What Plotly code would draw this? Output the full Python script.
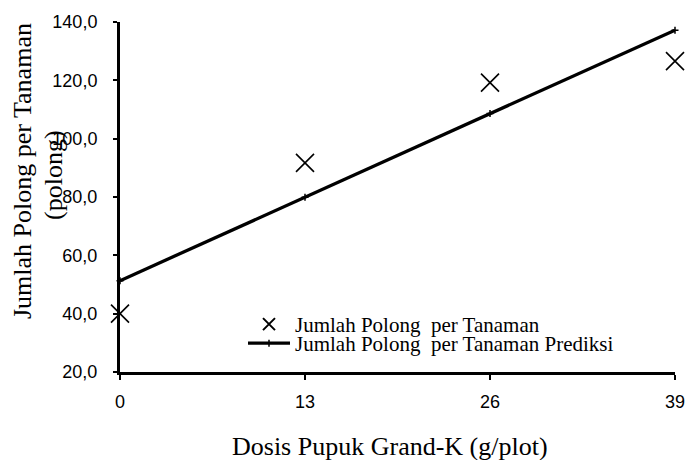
import plotly.graph_objects as go

dosis = [0, 13, 26, 39]
polong_obs = [40.0, 91.7, 119.2, 126.6]
polong_pred = [51.3, 79.9, 108.6, 137.2]
y_ticks = [20, 40, 60, 80, 100, 120, 140]

W, H = 688, 460
L, R, T, B = 120, 13, 22, 88

fig = go.Figure()
fig.add_trace(go.Scatter(
    x=dosis, y=polong_obs, mode="markers",
    name="Jumlah Polong\u00a0 per Tanaman",
    marker=dict(symbol="x-thin", size=18, color="black",
                line=dict(width=1.6, color="black")),
    cliponaxis=False, legend="legend",
))
fig.add_trace(go.Scatter(
    x=dosis, y=polong_pred, mode="lines+markers",
    name="Jumlah Polong\u00a0 per Tanaman Prediksi",
    line=dict(color="black", width=3.3),
    marker=dict(symbol="cross-thin", size=5, color="black",
                line=dict(width=1.5, color="black")),
    cliponaxis=False, legend="legend2",
))

def px_x(p):
    return (p - L) / (W - L - R)

def px_y(p):
    return (H - B - p) / (H - T - B)

title_font = dict(family="Liberation Serif", size=26, color="black")
legend_font = dict(family="Liberation Serif", size=21, color="black")

fig.update_layout(
    width=W, height=H,
    margin=dict(l=L, r=R, t=T, b=B, autoexpand=False),
    paper_bgcolor="white", plot_bgcolor="white",
    separators=",.",
    hovermode=False,
    showlegend=True,
    legend=dict(x=px_x(243), y=px_y(304), xanchor="left", yanchor="top",
                bgcolor="rgba(0,0,0,0)", itemsizing="constant",
                itemwidth=42, font=legend_font, tracegroupgap=0),
    legend2=dict(x=px_x(243), y=px_y(323), xanchor="left", yanchor="top",
                 bgcolor="rgba(0,0,0,0)",
                 itemwidth=42, font=legend_font, tracegroupgap=0),
    xaxis=dict(range=[0, 39], tickvals=dosis, ticktext=[str(v) for v in dosis],
               automargin=False,
               showline=True, linewidth=3, linecolor="black", mirror=False,
               ticks="outside", ticklen=5, tickwidth=2, tickcolor="black",
               showgrid=False, zeroline=False, ticklabelstandoff=6,
               tickfont=dict(family="Liberation Sans", size=18, color="black")),
    yaxis=dict(range=[20, 140], tickvals=y_ticks, tickformat=".1f",
               automargin=False,
               showline=True, linewidth=3, linecolor="black",
               ticks="outside", ticklen=4, tickwidth=2, tickcolor="black",
               showgrid=False, zeroline=False, ticklabelstandoff=12,
               tickfont=dict(family="Liberation Sans", size=18, color="black")),
    annotations=[
        dict(text="Jumlah Polong per Tanaman", textangle=-90,
             xref="paper", yref="paper", x=px_x(22), y=px_y(171),
             xanchor="center", yanchor="middle", showarrow=False,
             font=title_font),
        dict(text="(polong)", textangle=-90,
             xref="paper", yref="paper", x=px_x(53), y=px_y(175),
             xanchor="center", yanchor="middle", showarrow=False,
             font=title_font),
        dict(text="Dosis Pupuk Grand-K (g/plot)",
             xref="paper", yref="paper", x=px_x(390), y=px_y(447),
             xanchor="center", yanchor="middle", showarrow=False,
             font=title_font),
    ],
)

fig.write_html("out.html", config={"displayModeBar": False},
               post_script="document.body.style.margin='0';")
